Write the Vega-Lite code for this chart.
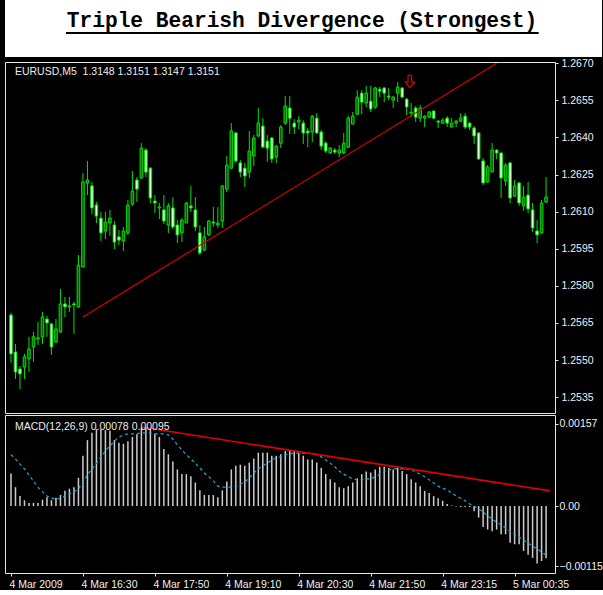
{
"$schema": "https://vega.github.io/schema/vega-lite/v6.json",
"background": "#000000",
"padding": 0,
"spacing": 0,
"config": {
  "view": {"fill": "#000000", "stroke": "#e6e6e6", "strokeWidth": 1},
  "axis": {"grid": false, "labelFont": "Liberation Sans", "labelFontSize": 10.5, "labelColor": "#f0f0f0"}
},
"datasets": {
"bars": [
{"i":0,"o":1.25682,"h":1.25691,"l":1.25489,"c":1.25525,"m":0.00062,"s":0.00098},
{"i":1,"o":1.25533,"h":1.25565,"l":1.25424,"c":1.25452,"m":0.00036,"s":0.00090},
{"i":2,"o":1.25464,"h":1.25476,"l":1.25383,"c":1.25444,"m":0.00019,"s":0.00080},
{"i":3,"o":1.25472,"h":1.25525,"l":1.25424,"c":1.25513,"m":0.00011,"s":0.00071},
{"i":4,"o":1.25505,"h":1.25594,"l":1.25452,"c":1.25545,"m":0.00006,"s":0.00059},
{"i":5,"o":1.25553,"h":1.25614,"l":1.25493,"c":1.25594,"m":0.00006,"s":0.00048},
{"i":6,"o":1.25585,"h":1.25654,"l":1.25561,"c":1.25590,"m":0.00006,"s":0.00036},
{"i":7,"o":1.25594,"h":1.25695,"l":1.25565,"c":1.25674,"m":0.00012,"s":0.00027},
{"i":8,"o":1.25666,"h":1.25678,"l":1.25594,"c":1.25650,"m":0.00017,"s":0.00019},
{"i":9,"o":1.25646,"h":1.25650,"l":1.25521,"c":1.25553,"m":0.00011,"s":0.00015},
{"i":10,"o":1.25573,"h":1.25666,"l":1.25569,"c":1.25626,"m":0.00016,"s":0.00013},
{"i":11,"o":1.25614,"h":1.25787,"l":1.25610,"c":1.25727,"m":0.00021,"s":0.00015},
{"i":12,"o":1.25727,"h":1.25755,"l":1.25674,"c":1.25715,"m":0.00029,"s":0.00019},
{"i":13,"o":1.25715,"h":1.25755,"l":1.25695,"c":1.25719,"m":0.00033,"s":0.00023},
{"i":14,"o":1.25727,"h":1.25735,"l":1.25606,"c":1.25723,"m":0.00036,"s":0.00027},
{"i":15,"o":1.25715,"h":1.25925,"l":1.25711,"c":1.25884,"m":0.00054,"s":0.00033},
{"i":16,"o":1.25876,"h":1.26256,"l":1.25876,"c":1.26220,"m":0.00096,"s":0.00046},
{"i":17,"o":1.26216,"h":1.26305,"l":1.26167,"c":1.26228,"m":0.00126,"s":0.00059},
{"i":18,"o":1.26204,"h":1.26220,"l":1.26090,"c":1.26115,"m":0.00140,"s":0.00071},
{"i":19,"o":1.26127,"h":1.26139,"l":1.26054,"c":1.26082,"m":0.00147,"s":0.00082},
{"i":20,"o":1.26074,"h":1.26099,"l":1.25981,"c":1.26014,"m":0.00147,"s":0.00094},
{"i":21,"o":1.26022,"h":1.26099,"l":1.25989,"c":1.26058,"m":0.00145,"s":0.00105},
{"i":22,"o":1.26054,"h":1.26107,"l":1.26002,"c":1.26074,"m":0.00144,"s":0.00115},
{"i":23,"o":1.26046,"h":1.26062,"l":1.25949,"c":1.25977,"m":0.00126,"s":0.00124},
{"i":24,"o":1.25998,"h":1.26026,"l":1.25965,"c":1.25985,"m":0.00121,"s":0.00132},
{"i":25,"o":1.25981,"h":1.26038,"l":1.25941,"c":1.26022,"m":0.00119,"s":0.00136},
{"i":26,"o":1.26014,"h":1.26147,"l":1.26006,"c":1.26127,"m":0.00124,"s":0.00138},
{"i":27,"o":1.26131,"h":1.26264,"l":1.26123,"c":1.26183,"m":0.00132,"s":0.00138},
{"i":28,"o":1.26228,"h":1.26240,"l":1.26139,"c":1.26191,"m":0.00137,"s":0.00138},
{"i":29,"o":1.26236,"h":1.26377,"l":1.26232,"c":1.26357,"m":0.00150,"s":0.00140},
{"i":30,"o":1.26349,"h":1.26357,"l":1.26240,"c":1.26260,"m":0.00151,"s":0.00140},
{"i":31,"o":1.26276,"h":1.26280,"l":1.26135,"c":1.26155,"m":0.00147,"s":0.00140},
{"i":32,"o":1.26143,"h":1.26167,"l":1.26095,"c":1.26135,"m":0.00138,"s":0.00138},
{"i":33,"o":1.26115,"h":1.26135,"l":1.26070,"c":1.26119,"m":0.00132,"s":0.00138},
{"i":34,"o":1.26107,"h":1.26167,"l":1.26050,"c":1.26062,"m":0.00109,"s":0.00138},
{"i":35,"o":1.26046,"h":1.26135,"l":1.26014,"c":1.26123,"m":0.00099,"s":0.00136},
{"i":36,"o":1.26115,"h":1.26159,"l":1.26030,"c":1.26038,"m":0.00085,"s":0.00128},
{"i":37,"o":1.26046,"h":1.26066,"l":1.25973,"c":1.26006,"m":0.00070,"s":0.00117},
{"i":38,"o":1.26014,"h":1.26074,"l":1.25977,"c":1.26066,"m":0.00061,"s":0.00107},
{"i":39,"o":1.26054,"h":1.26139,"l":1.26054,"c":1.26135,"m":0.00061,"s":0.00098},
{"i":40,"o":1.26123,"h":1.26204,"l":1.26099,"c":1.26115,"m":0.00057,"s":0.00090},
{"i":41,"o":1.26107,"h":1.26159,"l":1.26022,"c":1.26038,"m":0.00045,"s":0.00082},
{"i":42,"o":1.26014,"h":1.26046,"l":1.25925,"c":1.25933,"m":0.00030,"s":0.00073},
{"i":43,"o":1.25945,"h":1.26038,"l":1.25941,"c":1.25998,"m":0.00021,"s":0.00063},
{"i":44,"o":1.26006,"h":1.26066,"l":1.26002,"c":1.26062,"m":0.00021,"s":0.00056},
{"i":45,"o":1.26058,"h":1.26119,"l":1.26038,"c":1.26054,"m":0.00021,"s":0.00048},
{"i":46,"o":1.26046,"h":1.26119,"l":1.26034,"c":1.26054,"m":0.00017,"s":0.00038},
{"i":47,"o":1.26062,"h":1.26208,"l":1.26034,"c":1.26204,"m":0.00030,"s":0.00036},
{"i":48,"o":1.26191,"h":1.26325,"l":1.26179,"c":1.26288,"m":0.00047,"s":0.00036},
{"i":49,"o":1.26276,"h":1.26458,"l":1.26272,"c":1.26426,"m":0.00070,"s":0.00036},
{"i":50,"o":1.26418,"h":1.26422,"l":1.26297,"c":1.26305,"m":0.00077,"s":0.00038},
{"i":51,"o":1.26297,"h":1.26309,"l":1.26240,"c":1.26260,"m":0.00079,"s":0.00042},
{"i":52,"o":1.26276,"h":1.26297,"l":1.26200,"c":1.26244,"m":0.00077,"s":0.00046},
{"i":53,"o":1.26260,"h":1.26426,"l":1.26236,"c":1.26345,"m":0.00083,"s":0.00054},
{"i":54,"o":1.26325,"h":1.26410,"l":1.26284,"c":1.26398,"m":0.00091,"s":0.00063},
{"i":55,"o":1.26406,"h":1.26519,"l":1.26402,"c":1.26458,"m":0.00102,"s":0.00071},
{"i":56,"o":1.26446,"h":1.26478,"l":1.26357,"c":1.26361,"m":0.00102,"s":0.00077},
{"i":57,"o":1.26385,"h":1.26410,"l":1.26301,"c":1.26357,"m":0.00102,"s":0.00082},
{"i":58,"o":1.26398,"h":1.26402,"l":1.26297,"c":1.26313,"m":0.00096,"s":0.00088},
{"i":59,"o":1.26321,"h":1.26369,"l":1.26297,"c":1.26365,"m":0.00096,"s":0.00092},
{"i":60,"o":1.26377,"h":1.26450,"l":1.26357,"c":1.26442,"m":0.00099,"s":0.00094},
{"i":61,"o":1.26458,"h":1.26567,"l":1.26450,"c":1.26527,"m":0.00105,"s":0.00098},
{"i":62,"o":1.26519,"h":1.26567,"l":1.26414,"c":1.26478,"m":0.00107,"s":0.00100},
{"i":63,"o":1.26458,"h":1.26474,"l":1.26414,"c":1.26442,"m":0.00105,"s":0.00101},
{"i":64,"o":1.26462,"h":1.26486,"l":1.26434,"c":1.26470,"m":0.00102,"s":0.00101},
{"i":65,"o":1.26458,"h":1.26470,"l":1.26373,"c":1.26418,"m":0.00096,"s":0.00101},
{"i":66,"o":1.26426,"h":1.26438,"l":1.26361,"c":1.26418,"m":0.00089,"s":0.00101},
{"i":67,"o":1.26422,"h":1.26490,"l":1.26381,"c":1.26486,"m":0.00089,"s":0.00100},
{"i":68,"o":1.26478,"h":1.26498,"l":1.26414,"c":1.26418,"m":0.00083,"s":0.00098},
{"i":69,"o":1.26422,"h":1.26430,"l":1.26349,"c":1.26365,"m":0.00073,"s":0.00094},
{"i":70,"o":1.26377,"h":1.26385,"l":1.26337,"c":1.26345,"m":0.00061,"s":0.00088},
{"i":71,"o":1.26337,"h":1.26361,"l":1.26333,"c":1.26357,"m":0.00051,"s":0.00082},
{"i":72,"o":1.26349,"h":1.26357,"l":1.26333,"c":1.26341,"m":0.00045,"s":0.00075},
{"i":73,"o":1.26337,"h":1.26369,"l":1.26321,"c":1.26349,"m":0.00036,"s":0.00067},
{"i":74,"o":1.26337,"h":1.26418,"l":1.26333,"c":1.26377,"m":0.00034,"s":0.00061},
{"i":75,"o":1.26361,"h":1.26486,"l":1.26357,"c":1.26478,"m":0.00038,"s":0.00056},
{"i":76,"o":1.26454,"h":1.26503,"l":1.26454,"c":1.26486,"m":0.00045,"s":0.00052},
{"i":77,"o":1.26494,"h":1.26591,"l":1.26490,"c":1.26563,"m":0.00053,"s":0.00050},
{"i":78,"o":1.26579,"h":1.26591,"l":1.26494,"c":1.26543,"m":0.00061,"s":0.00050},
{"i":79,"o":1.26539,"h":1.26608,"l":1.26523,"c":1.26579,"m":0.00066,"s":0.00052},
{"i":80,"o":1.26547,"h":1.26608,"l":1.26503,"c":1.26515,"m":0.00064,"s":0.00052},
{"i":81,"o":1.26523,"h":1.26604,"l":1.26515,"c":1.26600,"m":0.00070,"s":0.00056},
{"i":82,"o":1.26595,"h":1.26604,"l":1.26563,"c":1.26587,"m":0.00075,"s":0.00061},
{"i":83,"o":1.26600,"h":1.26604,"l":1.26543,"c":1.26579,"m":0.00075,"s":0.00065},
{"i":84,"o":1.26567,"h":1.26600,"l":1.26551,"c":1.26563,"m":0.00073,"s":0.00069},
{"i":85,"o":1.26551,"h":1.26567,"l":1.26519,"c":1.26563,"m":0.00070,"s":0.00071},
{"i":86,"o":1.26579,"h":1.26624,"l":1.26543,"c":1.26604,"m":0.00073,"s":0.00071},
{"i":87,"o":1.26600,"h":1.26604,"l":1.26559,"c":1.26563,"m":0.00067,"s":0.00071},
{"i":88,"o":1.26555,"h":1.26559,"l":1.26490,"c":1.26523,"m":0.00061,"s":0.00071},
{"i":89,"o":1.26498,"h":1.26539,"l":1.26482,"c":1.26502,"m":0.00051,"s":0.00069},
{"i":90,"o":1.26519,"h":1.26527,"l":1.26462,"c":1.26482,"m":0.00045,"s":0.00065},
{"i":91,"o":1.26478,"h":1.26531,"l":1.26462,"c":1.26519,"m":0.00038,"s":0.00061},
{"i":92,"o":1.26478,"h":1.26490,"l":1.26442,"c":1.26486,"m":0.00029,"s":0.00056},
{"i":93,"o":1.26482,"h":1.26507,"l":1.26478,"c":1.26503,"m":0.00025,"s":0.00050},
{"i":94,"o":1.26507,"h":1.26507,"l":1.26474,"c":1.26478,"m":0.00019,"s":0.00044},
{"i":95,"o":1.26466,"h":1.26470,"l":1.26438,"c":1.26462,"m":0.00015,"s":0.00038},
{"i":96,"o":1.26458,"h":1.26478,"l":1.26454,"c":1.26470,"m":0.00010,"s":0.00034},
{"i":97,"o":1.26478,"h":1.26486,"l":1.26442,"c":1.26458,"m":0.00004,"s":0.00031},
{"i":98,"o":1.26442,"h":1.26478,"l":1.26442,"c":1.26458,"m":0.00001,"s":0.00025},
{"i":99,"o":1.26458,"h":1.26470,"l":1.26442,"c":1.26466,"m":-0.00001,"s":0.00019},
{"i":100,"o":1.26466,"h":1.26498,"l":1.26462,"c":1.26478,"m":-0.00002,"s":0.00015},
{"i":101,"o":1.26486,"h":1.26498,"l":1.26434,"c":1.26442,"m":-0.00002,"s":0.00010},
{"i":102,"o":1.26458,"h":1.26462,"l":1.26430,"c":1.26442,"m":-0.00002,"s":0.00004},
{"i":103,"o":1.26438,"h":1.26446,"l":1.26373,"c":1.26406,"m":-0.00010,"s":0.00000},
{"i":104,"o":1.26418,"h":1.26422,"l":1.26309,"c":1.26313,"m":-0.00022,"s":-0.00006},
{"i":105,"o":1.26305,"h":1.26317,"l":1.26208,"c":1.26216,"m":-0.00040,"s":-0.00011},
{"i":106,"o":1.26220,"h":1.26288,"l":1.26216,"c":1.26280,"m":-0.00045,"s":-0.00019},
{"i":107,"o":1.26260,"h":1.26377,"l":1.26260,"c":1.26349,"m":-0.00048,"s":-0.00025},
{"i":108,"o":1.26349,"h":1.26353,"l":1.26313,"c":1.26337,"m":-0.00045,"s":-0.00031},
{"i":109,"o":1.26337,"h":1.26341,"l":1.26155,"c":1.26236,"m":-0.00054,"s":-0.00036},
{"i":110,"o":1.26224,"h":1.26297,"l":1.26204,"c":1.26288,"m":-0.00054,"s":-0.00042},
{"i":111,"o":1.26297,"h":1.26301,"l":1.26135,"c":1.26155,"m":-0.00070,"s":-0.00048},
{"i":112,"o":1.26163,"h":1.26228,"l":1.26159,"c":1.26204,"m":-0.00073,"s":-0.00054},
{"i":113,"o":1.26216,"h":1.26220,"l":1.26123,"c":1.26135,"m":-0.00073,"s":-0.00059},
{"i":114,"o":1.26123,"h":1.26204,"l":1.26103,"c":1.26159,"m":-0.00086,"s":-0.00065},
{"i":115,"o":1.26167,"h":1.26220,"l":1.26095,"c":1.26111,"m":-0.00093,"s":-0.00071},
{"i":116,"o":1.26107,"h":1.26135,"l":1.26018,"c":1.26034,"m":-0.00099,"s":-0.00077},
{"i":117,"o":1.26022,"h":1.26066,"l":1.25973,"c":1.26006,"m":-0.00110,"s":-0.00082},
{"i":118,"o":1.26014,"h":1.26147,"l":1.26010,"c":1.26135,"m":-0.00105,"s":-0.00088},
{"i":119,"o":1.26139,"h":1.26240,"l":1.26135,"c":1.26159,"m":-0.00100,"s":-0.00094}
],
"trendPrice": [{"i":16,"p":1.25674},{"i":108,"p":1.26700}],
"trendMacd": [{"i":29,"v":0.00151},{"i":119.87,"v":0.00029}],
"arrows": [{"i":88.7,"p":1.26626}],
"notes": [
  {"panel":"price","i":0.87,"v":1.26652,"label":"EURUSD,M5\u00a0 1.3148 1.3151 1.3147 1.3151"},
  {"panel":"macd","i":0.87,"v":0.00146,"label":"MACD(12,26,9) 0.00078 0.00095"}
],
"title": [{"t":"Triple Bearish Divergence (Strongest)"}]
},
"vconcat": [
{
  "width": 597, "height": 57,
  "view": {"fill": "#ffffff", "stroke": null},
  "data": {"name": "title"},
  "layer": [
    {"mark": {"type": "text", "font": "Liberation Mono", "fontWeight": "bold", "fontSize": 21.2, "color": "#000000", "baseline": "alphabetic", "align": "center"},
     "encoding": {
       "text": {"field": "t"},
       "x": {"datum": 0.4975, "type": "quantitative", "scale": {"domain": [0, 1], "nice": false, "zero": false}, "axis": null},
       "y": {"datum": 0.52, "type": "quantitative", "scale": {"domain": [0, 1], "nice": false, "zero": false}, "axis": null}}},
    {"mark": {"type": "rule", "color": "#000000", "strokeWidth": 2},
     "encoding": {
       "x": {"datum": 0.102, "type": "quantitative"},
       "x2": {"datum": 0.894},
       "y": {"datum": 0.42, "type": "quantitative"}}}
  ]
},
{
  "width": 550, "height": 351,
  "data": {"name": "bars"},
  "layer": [
    {"mark": {"type": "rule", "color": "#00e000", "strokeWidth": 1},
     "encoding": {
       "x": {"field": "i", "type": "quantitative", "scale": {"domain": [-0.22, 119.87], "nice": false, "zero": false},
             "axis": {"orient": "top", "labels": false, "domain": false, "ticks": true, "tickColor": "#000000", "tickOpacity": 0, "tickSize": 4, "values": [50], "title": null}},
       "y": {"field": "l", "type": "quantitative", "scale": {"domain": [1.25286, 1.26705], "nice": false, "zero": false},
             "axis": {"orient": "right", "values": [1.2535, 1.255, 1.2565, 1.258, 1.2595, 1.261, 1.2625, 1.264, 1.2655, 1.267], "format": ".4f", "domain": false, "tickSize": 3, "tickColor": "#e6e6e6", "labelPadding": 3, "labelOverlap": false, "title": null}},
       "y2": {"field": "h"}}},
    {"mark": {"type": "bar", "width": 2.6, "stroke": "#00e000", "strokeWidth": 1},
     "encoding": {
       "x": {"field": "i", "type": "quantitative"},
       "y": {"field": "o", "type": "quantitative",
             "axis": {"orient": "left", "labels": false, "domain": false, "ticks": true, "tickColor": "#000000", "tickOpacity": 0, "tickSize": 4, "values": [1.26], "title": null}},
       "y2": {"field": "c"},
       "fill": {"condition": {"test": "datum.c >= datum.o", "value": "#0a600a"}, "value": "#e4ffe4"}}},
    {"data": {"name": "trendPrice"},
     "mark": {"type": "line", "color": "#d40000", "strokeWidth": 1.2, "clip": true},
     "encoding": {
       "x": {"field": "i", "type": "quantitative"},
       "y": {"field": "p", "type": "quantitative", "axis": null}}},
    {"data": {"name": "arrows"},
     "mark": {"type": "point", "shape": "M-0.3,-1L0.3,-1L0.3,0.1L0.75,0.1L0,1L-0.75,0.1L-0.3,0.1Z", "filled": false, "stroke": "#e00000", "strokeWidth": 1.2, "size": 150, "opacity": 1},
     "encoding": {
       "x": {"field": "i", "type": "quantitative"},
       "y": {"field": "p", "type": "quantitative", "axis": null}}},
    {"data": {"name": "notes"},
     "transform": [{"filter": "datum.panel == 'price'"}],
     "mark": {"type": "text", "align": "left", "baseline": "alphabetic", "font": "Liberation Sans", "fontSize": 10.5, "color": "#ececec"},
     "encoding": {
       "x": {"field": "i", "type": "quantitative"},
       "y": {"field": "v", "type": "quantitative", "axis": null},
       "text": {"field": "label"}}}
  ],
  "resolve": {"axis": {"y": "independent"}}
},
{
  "width": 550, "height": 158,
  "data": {"name": "bars"},
  "layer": [
    {"mark": {"type": "bar", "width": 1.5, "color": "#cccccc"},
     "encoding": {
       "x": {"field": "i", "type": "quantitative", "scale": {"domain": [-0.22, 119.87], "nice": false, "zero": false},
             "axis": {"orient": "bottom", "values": [0, 16, 32, 48, 64, 80, 96, 112],
                      "labelExpr": "['4 Mar 2009','4 Mar 16:30','4 Mar 17:50','4 Mar 19:10','4 Mar 20:30','4 Mar 21:50','4 Mar 23:15','5 Mar 00:35'][round(datum.value/16)]",
                      "labelAlign": "left", "labelOffset": -2, "labelFlush": false, "labelOverlap": false, "labelPadding": 3, "domain": false, "tickSize": 3, "tickColor": "#e6e6e6", "labelBaseline": "top", "labelFont": "Liberation Sans", "labelFontSize": 10.5, "labelColor": "#f0f0f0", "title": null}},
       "y": {"field": "m", "type": "quantitative", "scale": {"domain": [-0.00128, 0.00174], "nice": false, "zero": false},
             "axis": {"orient": "right", "values": [0.00157, 0, -0.00115], "labelExpr": "datum.value == 0 ? '0.00' : format(datum.value, '.5f')", "domain": false, "tickSize": 3, "tickColor": "#e6e6e6", "labelPadding": 1, "labelOverlap": false, "title": null}},
       "y2": {"datum": 0}}},
    {"mark": {"type": "line", "color": "#1fa8dc", "strokeWidth": 1.2, "strokeDash": [3, 3]},
     "encoding": {
       "x": {"field": "i", "type": "quantitative"},
       "y": {"field": "s", "type": "quantitative",
             "axis": {"orient": "left", "labels": false, "domain": false, "ticks": true, "tickColor": "#000000", "tickOpacity": 0, "tickSize": 4, "values": [0], "title": null}}}},
    {"data": {"name": "trendMacd"},
     "mark": {"type": "line", "color": "#e00000", "strokeWidth": 1.6, "clip": true},
     "encoding": {
       "x": {"field": "i", "type": "quantitative"},
       "y": {"field": "v", "type": "quantitative", "axis": null}}},
    {"data": {"name": "notes"},
     "transform": [{"filter": "datum.panel == 'macd'"}],
     "mark": {"type": "text", "align": "left", "baseline": "alphabetic", "font": "Liberation Sans", "fontSize": 10.5, "color": "#ececec"},
     "encoding": {
       "x": {"field": "i", "type": "quantitative"},
       "y": {"field": "v", "type": "quantitative", "axis": null},
       "text": {"field": "label"}}}
  ],
  "resolve": {"axis": {"y": "independent"}}
}
]
}
